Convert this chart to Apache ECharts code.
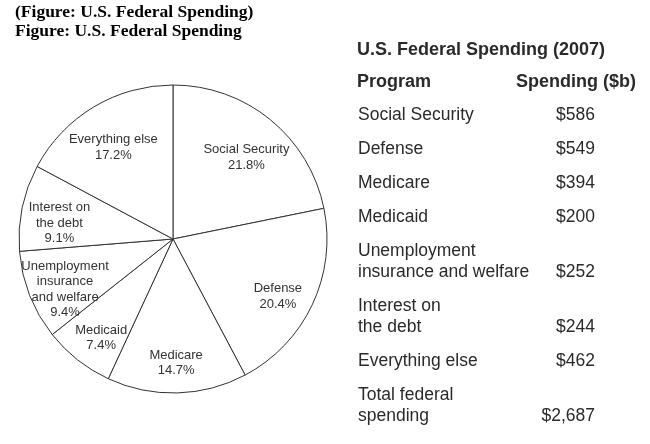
<!DOCTYPE html>
<html lang="en">
<head>
    <meta charset="UTF-8">
    <script src="https://cdn.jsdelivr.net/npm/echarts@6/dist/echarts.min.js"></script>
    <style type="text/css">
        html, body, #main {
            height: 100%;
            width: 100%;
            margin: 0;
            padding: 0;
            background: #fff;
        }
    </style>
    <title>U.S. Federal Spending</title>
</head>
<body>
<div id="main"></div>
<script>
    // pie slices, clockwise from 12 o'clock
    var pieLabels = ['Social Security', 'Defense', 'Medicare', 'Medicaid',
        'Unemployment\ninsurance\nand welfare', 'Interest on\nthe debt', 'Everything else'];
    // table rows (same order)
    var programs = ['Social Security', 'Defense', 'Medicare', 'Medicaid',
        'Unemployment\ninsurance and welfare', 'Interest on\nthe debt', 'Everything else'];
    var spending = [586, 549, 394, 200, 252, 244, 462];
    var totalLabel = 'Total federal\nspending';

    var myChart = echarts.init(document.getElementById('main'));
    var sans = 'Liberation Sans, Arial, sans-serif';
    var ink = '#2a2a2a';

    var pieData = spending.map(function (v, i) {
        return {name: pieLabels[i], value: v};
    });

    // table as graphic text
    var graphics = [];
    function txt(s, x, y, size, bold, align) {
        graphics.push({
            type: 'text', x: x, y: y, silent: true,
            style: {
                text: s, fill: ink, textAlign: align || 'left', textVerticalAlign: 'middle',
                font: (bold ? 'bold ' : '') + size + 'px ' + sans
            }
        });
    }
    txt('U.S. Federal Spending (2007)', 357, 50, 18, true);
    txt('Program', 357, 82, 18, true);
    txt('Spending ($b)', 636, 82, 18, true, 'right');

    var rows = programs.map(function (p, i) {
        return {name: p, val: '$' + spending[i]};
    });
    var total = spending.reduce(function (a, b) { return a + b; }, 0);
    rows.push({name: totalLabel, val: '$' + total.toLocaleString('en-US')});

    var y = 115;
    rows.forEach(function (r) {
        var lines = r.name.split('\n');
        lines.forEach(function (l, k) {
            txt(l, 358, y + k * 21, 17.5);
        });
        var last = y + (lines.length - 1) * 21;
        txt(r.val, 595, last, 17.5, false, 'right');
        y = last + 34;
    });

    var option = {
        backgroundColor: '#fff',
        animation: false,
        title: {
            text: '(Figure: U.S. Federal Spending)\nFigure: U.S. Federal Spending',
            left: 10,
            top: -2,
            textStyle: {
                fontFamily: 'Liberation Serif, Times New Roman, serif',
                fontWeight: 'bold',
                fontSize: 17.5,
                lineHeight: 19,
                color: '#000'
            }
        },
        series: [
            {
                type: 'pie',
                center: [173, 239],
                radius: 154,
                startAngle: 90,
                silent: true,
                data: pieData,
                label: {show: false},
                labelLine: {show: false},
                itemStyle: {color: '#fff', borderColor: '#333', borderWidth: 1}
            },
            {
                // transparent ring only to place the labels
                type: 'pie',
                center: [173, 239],
                radius: [72, 154],
                startAngle: 90,
                silent: true,
                percentPrecision: 1,
                data: pieData,
                itemStyle: {color: 'rgba(0,0,0,0)', borderWidth: 0},
                labelLine: {show: false},
                label: {
                    position: 'inner',
                    offset: [0, 8],
                    formatter: '{b}\n{d}%',
                    color: '#333',
                    fontFamily: sans,
                    fontSize: 13,
                    lineHeight: 15.5
                }
            }
        ],
        graphic: graphics
    };

    myChart.setOption(option);
</script>
</body>
</html>
